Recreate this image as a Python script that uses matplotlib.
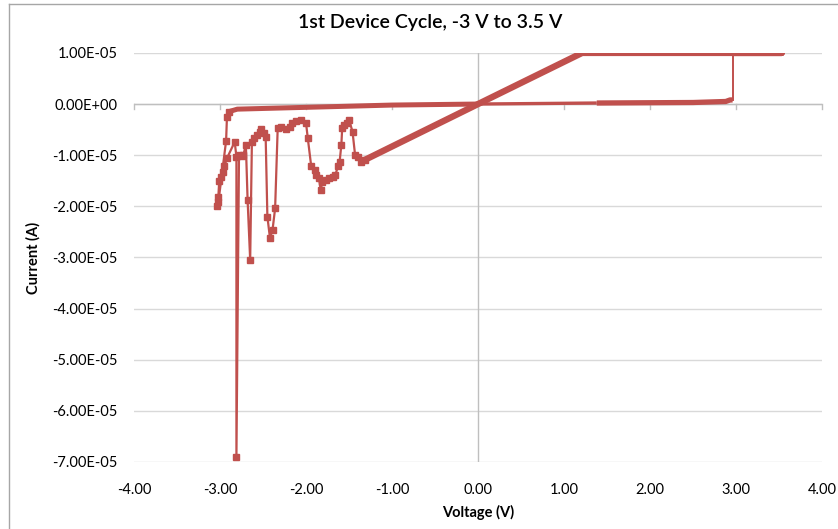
import numpy as np
import matplotlib
matplotlib.use("Agg")
import matplotlib.pyplot as plt
from matplotlib.ticker import FuncFormatter

plt.rcParams['font.family'] = ['Lato', 'DejaVu Sans']

# ---------------- data (voltage in V, current in units of 1e-5 A) ----------------
# forward sweep, high-resistance state (0 -> ~2.96 V)
set_v = [0.00, 1.38, 2.50, 2.88, 2.93, 2.96]
set_i = [0.00, 0.02, 0.03, 0.05, 0.08, 0.08]
# set jump to compliance
jump_v = [2.96, 2.96]
jump_i = [0.08, 1.00]
# compliance + low-resistance state back through zero to -1.35 V
lrs_v = [2.96, 3.53, 2.26, 1.21, 0.00, -1.35]
lrs_i = [1.00, 1.00, 1.00, 1.00, 0.00, -1.12]
# noisy reset region (-1.35 -> -3.03 V and first return points)
reset_v = [-1.32, -1.36, -1.40, -1.43, -1.46, -1.50, -1.52, -1.56, -1.58, -1.59,
           -1.61, -1.63, -1.66, -1.69, -1.73, -1.77, -1.81, -1.83, -1.85, -1.88,
           -1.90, -1.94, -1.98, -2.00, -2.06, -2.12, -2.16, -2.19, -2.23, -2.29,
           -2.33, -2.36, -2.39, -2.42, -2.45, -2.47, -2.49, -2.52, -2.54, -2.57,
           -2.61, -2.63, -2.65, -2.68, -2.70, -2.73, -2.75, -2.78, -2.81, -2.81,
           -2.83, -2.92, -2.95, -2.97, -2.99, -3.01, -3.02, -3.03, -3.02, -2.93,
           -2.92, -2.90]
reset_i = [-1.09, -1.13, -1.03, -1.00, -0.54, -0.31, -0.38, -0.41, -0.47, -0.80,
           -1.13, -1.22, -1.39, -1.42, -1.45, -1.48, -1.52, -1.68, -1.45, -1.39,
           -1.29, -1.22, -0.67, -0.38, -0.31, -0.34, -0.38, -0.44, -0.48, -0.44,
           -0.47, -2.04, -2.46, -2.62, -2.20, -0.64, -0.57, -0.48, -0.54, -0.60,
           -0.67, -0.74, -3.05, -1.88, -0.80, -1.00, -1.02, -1.00, -6.91, -1.03,
           -0.74, -1.06, -1.22, -1.32, -1.42, -1.50, -1.81, -1.99, -1.92, -0.72,
           -0.25, -0.15]
# return sweep (-2.9 -> 0 V), high-resistance state
ret_v = [-2.90, -2.80, -1.00, 0.00]
ret_i = [-0.15, -0.10, -0.02, 0.00]

x_ticks = [-4, -3, -2, -1, 0, 1, 2, 3, 4]
y_ticks = [1, 0, -1, -2, -3, -4, -5, -6, -7]

scale = 1e-5
red = '#C0504D'

fig = plt.figure(figsize=(8.38, 5.29), dpi=100)
ax = fig.add_axes([0.160, 0.1267, 0.821, 0.7733])

# thick dense traces
ax.plot(set_v[:2], np.array(set_i[:2]) * scale, color=red, lw=2.4, solid_capstyle='butt', zorder=3)
ax.plot(set_v[1:], np.array(set_i[1:]) * scale, color=red, lw=3.8, solid_capstyle='butt', zorder=3)
ax.plot(jump_v, np.array(jump_i) * scale, color=red, lw=1.4, zorder=3)
ax.plot(lrs_v, np.array(lrs_i) * scale, color=red, lw=4.6, solid_capstyle='butt', zorder=3)
ax.plot(ret_v, np.array(ret_i) * scale, color=red, lw=3.6, solid_capstyle='butt', zorder=3)
# noisy reset region with markers
ax.plot(reset_v, np.array(reset_i) * scale, color=red, lw=1.6, marker='s', ms=3.8,
        mec=red, mfc=red, zorder=4)

ax.set_xlim(-4, 4)
ax.set_ylim(-7e-5, 1e-5)
ax.set_xticks(x_ticks)
ax.set_yticks(np.array(y_ticks) * scale)

def yfmt(v, pos):
    m = round(v / scale)
    if m == 0:
        return '0.00E+00'
    return f'{m:.2f}E-05'

ax.yaxis.set_major_formatter(FuncFormatter(yfmt))
ax.xaxis.set_major_formatter(FuncFormatter(lambda v, p: f'{v:.2f}'))

for s in ax.spines.values():
    s.set_visible(False)
ax.grid(True, axis='y', color='#d9d9d9', lw=1.0)
ax.set_axisbelow(True)
# axis lines crossing at zero
ax.axhline(0, color='#bfbfbf', lw=1.0, zorder=1)
ax.axvline(0, color='#bfbfbf', lw=1.0, zorder=1)
for xv in x_ticks:
    ax.plot([xv, xv], [0, -0.1e-5], color='#bfbfbf', lw=1.0, zorder=1, clip_on=False)

ax.tick_params(axis='both', length=0, labelsize=10.5, colors='#000000')
ax.tick_params(axis='x', pad=15)
ax.tick_params(axis='y', pad=12)

ax.set_xlabel('Voltage (V)', fontsize=10.5, fontweight='bold', labelpad=6)
ax.set_ylabel('Current (A)', fontsize=10.5, fontweight='bold', labelpad=8)
fig.text(0.513, 0.958, '1st Device Cycle, -3 V to 3.5 V', ha='center', va='center',
         fontsize=14, fontweight='semibold')

# chart border (top and left edges visible)
fig.add_artist(plt.Line2D([0.011, 1.0], [0.992, 0.992], transform=fig.transFigure, color='#a6a6a6', lw=1.0))
fig.add_artist(plt.Line2D([0.011, 0.011], [0.0, 0.992], transform=fig.transFigure, color='#a6a6a6', lw=1.0))

fig.savefig('out.png', dpi=100)
